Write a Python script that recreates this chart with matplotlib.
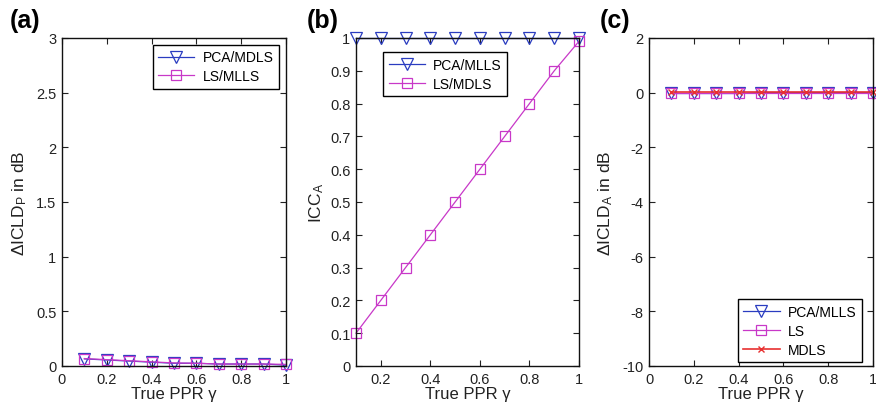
import matplotlib
matplotlib.use("Agg")
import matplotlib.pyplot as plt
import numpy as np

plt.rcParams['font.family'] = ['Liberation Sans', 'DejaVu Sans']
plt.rcParams['mathtext.fontset'] = 'custom'
plt.rcParams['mathtext.rm'] = 'Liberation Sans'
plt.rcParams['mathtext.it'] = 'Liberation Sans'

gamma = [0.1, 0.2, 0.3, 0.4, 0.5, 0.6, 0.7, 0.8, 0.9, 1.0]

# (a) power-difference error
icld_p_pca_mdls = [0.065, 0.055, 0.045, 0.035, 0.025, 0.025, 0.018, 0.018, 0.018, 0.008]
icld_p_ls_mlls = [0.068, 0.058, 0.048, 0.038, 0.028, 0.025, 0.018, 0.018, 0.018, 0.015]

# (b) ambient coherence
icc_pca_mlls = [1.0, 1.0, 1.0, 1.0, 1.0, 1.0, 1.0, 1.0, 1.0, 1.0]
icc_ls_mdls = [0.1, 0.2, 0.3, 0.4, 0.5, 0.6, 0.7, 0.8, 0.9, 0.99]

# (c) ambient level-difference error
icld_a_pca_mlls = [-0.03, -0.03, -0.03, -0.03, 0.0, 0.0, 0.0, 0.0, 0.0, 0.0]
icld_a_ls = [0.0, 0.0, 0.0, 0.0, 0.0, 0.0, 0.0, 0.0, 0.0, 0.0]
icld_a_mdls = [0.02, 0.02, 0.02, 0.02, 0.02, 0.02, 0.02, 0.02, 0.02, 0.02]

BLUE = '#2a3cc0'
MAG = '#c838c8'
RED = '#e83030'
TXT = '#222222'

fig = plt.figure(figsize=(8.76, 4.06), dpi=100)
W, H = 876, 406


def add_ax(l, r, t, b):
    return fig.add_axes([l / W, 1 - b / H, (r - l) / W, (b - t) / H])


def style(ax):
    ax.tick_params(direction='in', top=True, right=True, labelsize=10.5,
                   length=4, width=0.8, pad=4, colors=TXT, labelcolor=TXT)
    for s in ax.spines.values():
        s.set_linewidth(1.0)
        s.set_color('#111111')


def frame(leg):
    leg.get_frame().set_linewidth(1.0)


tri = dict(marker='v', markersize=8, markerfacecolor='none', markeredgewidth=0.9,
           linewidth=0.9, color=BLUE)
sq = dict(marker='s', markersize=7.5, markerfacecolor='none', markeredgewidth=0.9,
          linewidth=0.9, color=MAG)
cross = dict(marker='x', markersize=4, markeredgewidth=1.0, linewidth=1.2, color=RED)

leg_kw = dict(fontsize=10, fancybox=False, edgecolor='black', framealpha=1,
              handlelength=2.6, borderpad=0.4, handletextpad=0.6, labelspacing=0.35,
              borderaxespad=0)
xlabel = 'True PPR γ'
XL = dict(fontsize=12, labelpad=0, color=TXT)
YL = dict(fontsize=12.5, color=TXT)

# panel (a)
axa = add_ax(62, 286, 39, 367)
axa.plot(gamma, icld_p_pca_mdls, label='PCA/MDLS', clip_on=False, **tri)
axa.plot(gamma, icld_p_ls_mlls, label='LS/MLLS', clip_on=False, **sq)
axa.set_xlim(0, 1)
axa.set_ylim(0, 3)
axa.set_xticks([0, 0.2, 0.4, 0.6, 0.8, 1])
axa.set_xticklabels(['0', '0.2', '0.4', '0.6', '0.8', '1'])
axa.set_yticks([0, 0.5, 1, 1.5, 2, 2.5, 3])
axa.set_yticklabels(['0', '0.5', '1', '1.5', '2', '2.5', '3'])
axa.set_xlabel(xlabel, **XL)
axa.set_ylabel('$\\Delta$ICLD$_\\mathrm{P}$ in dB', labelpad=5, **YL)
style(axa)
leg = axa.legend(loc='upper right', bbox_to_anchor=(0.969, 0.979), **leg_kw)
frame(leg)
fig.text(10 / W, 1 - 21 / H, '(a)', fontsize=18, fontweight='bold', va='center')

# panel (b)
axb = add_ax(356, 579, 39, 367)
axb.plot(gamma, icc_pca_mlls, label='PCA/MLLS', clip_on=False, **tri)
axb.plot(gamma, icc_ls_mdls, label='LS/MDLS', clip_on=False, **sq)
axb.set_xlim(0.1, 1)
axb.set_ylim(0, 1)
axb.set_xticks([0.2, 0.4, 0.6, 0.8, 1])
axb.set_xticklabels(['0.2', '0.4', '0.6', '0.8', '1'])
axb.set_yticks(np.round(np.arange(0, 1.01, 0.1), 1))
axb.set_yticklabels(['0', '0.1', '0.2', '0.3', '0.4', '0.5', '0.6', '0.7', '0.8', '0.9', '1'])
axb.set_xlabel(xlabel, **XL)
axb.set_ylabel('ICC$_\\mathrm{A}$', labelpad=3, **YL)
style(axb)
leg = axb.legend(loc='upper left', bbox_to_anchor=(0.121, 0.957), **leg_kw)
frame(leg)
fig.text(307 / W, 1 - 21 / H, '(b)', fontsize=18, fontweight='bold', va='center')

# panel (c)
axc = add_ax(649, 873, 39, 367)
axc.plot(gamma, icld_a_pca_mlls, label='PCA/MLLS', clip_on=False, **tri)
axc.plot(gamma, icld_a_ls, label='LS', clip_on=False, **sq)
axc.plot(gamma, icld_a_mdls, label='MDLS', clip_on=False, **cross)
axc.set_xlim(0, 1)
axc.set_ylim(-10, 2)
axc.set_xticks([0, 0.2, 0.4, 0.6, 0.8, 1])
axc.set_xticklabels(['0', '0.2', '0.4', '0.6', '0.8', '1'])
axc.set_yticks([-10, -8, -6, -4, -2, 0, 2])
axc.set_yticklabels(['-10', '-8', '-6', '-4', '-2', '0', '2'])
axc.set_xlabel(xlabel, **XL)
axc.set_ylabel('$\\Delta$ICLD$_\\mathrm{A}$ in dB', labelpad=5, **YL)
style(axc)
leg = axc.legend(loc='lower right', bbox_to_anchor=(0.951, 0.012), **leg_kw)
frame(leg)
fig.text(600 / W, 1 - 21 / H, '(c)', fontsize=18, fontweight='bold', va='center')

fig.savefig('out.png', dpi=100)
